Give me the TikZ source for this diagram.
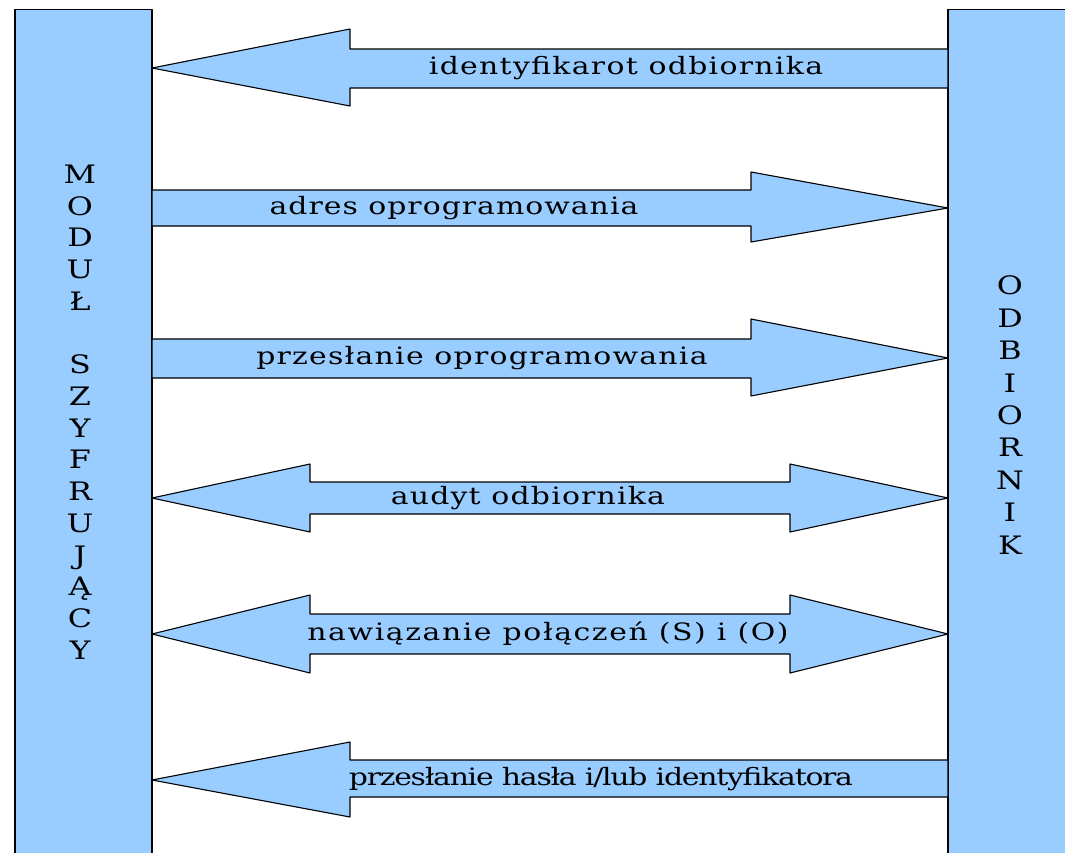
\documentclass[tikz,border=0pt]{standalone}
\usepackage{fontspec}
\setmainfont{DejaVu Serif}
\newfontfamily\szeroki[FakeStretch=1.25]{DejaVu Serif}
\usetikzlibrary{calc}
\definecolor{jasnoniebieski}{RGB}{153,204,255}
\tikzset{
    pasek/.style={draw=black,fill=jasnoniebieski,line width=1.1bp},
    strzalka/.style={draw=black,fill=jasnoniebieski,line width=1.1bp},
    etykieta/.style={inner sep=0pt,font=\szeroki\fontsize{24}{28}\selectfont\addfontfeatures{LetterSpace=#1}},
    etykieta/.default=5.2,
    litera/.style={inner sep=0pt,anchor=base,font=\szeroki\fontsize{25.5}{30}\selectfont}
}

\begin{document}
\begin{tikzpicture}[line cap=round,line join=round,x=1bp,y=-1bp]
    \useasboundingbox (0,0) rectangle (1065,853);
    \clip (0,0) rectangle (1065,853);
    % bloki
    \draw [pasek] (15,9.5) rectangle (152,880);
    \draw [pasek] (948,9.5) rectangle (1080,880);
    \coordinate (modul) at (80,412);
    \coordinate (odbiornik) at (1010,416);
    % strzalki
    \draw [strzalka] (152,68) -- (350,29) -- (350,49) -- (948,49) -- (948,88) -- (350,88) -- (350,106) -- cycle;
    \draw [strzalka] (152,190) -- (751,190) -- (751,172) -- (948,208) -- (751,242) -- (751,226) -- (152,226) -- cycle;
    \draw [strzalka] (152,339) -- (751,339) -- (751,319) -- (948,358) -- (751,396) -- (751,378) -- (152,378) -- cycle;
    \draw [strzalka] (152,498) -- (310,464) -- (310,482) -- (790,482) -- (790,464) -- (948,498) -- (790,532) -- (790,514) -- (310,514) -- (310,532) -- cycle;
    \draw [strzalka] (152,634) -- (310,595) -- (310,614) -- (790,614) -- (790,595) -- (948,634) -- (790,673) -- (790,654) -- (310,654) -- (310,673) -- cycle;
    \draw [strzalka] (152,780) -- (350,742) -- (350,760) -- (948,760) -- (948,797) -- (350,797) -- (350,817) -- cycle;
    % etykiety
    \node [etykieta=5.4] (e1) at (626,68) {identyfikarot odbiornika};
    \node [etykieta=4.2] (e2) at (454,208) {adres oprogramowania};
    \node [etykieta] (e3) at (482,358) {przesłanie oprogramowania};
    \node [etykieta=5] (e4) at (528,498) {audyt odbiornika};
    \node [etykieta=6.6] (e5) at (548,634) {nawiązanie połączeń (S) i (O)};
    \node [etykieta=-5.3] (e6) at (601,779) {przesłanie hasła i/lub identyfikatora};
    % napisy pionowe
    \foreach \z [count=\i] in {M,O,D,U,Ł,{},S,Z,Y,F,R,U,J,Ą,C,Y}
        \node [litera] (m\i) at ($(modul)+(0,-238+31.73*\i-31.73+9.3)$) {\z};
    \foreach \z [count=\i] in {O,D,B,I,O,R,N,I,K}
        \node [litera] (o\i) at ($(odbiornik)+(0,-130.4+32.4*\i-32.4+9.3)$) {\z};
\end{tikzpicture}
\end{document}
